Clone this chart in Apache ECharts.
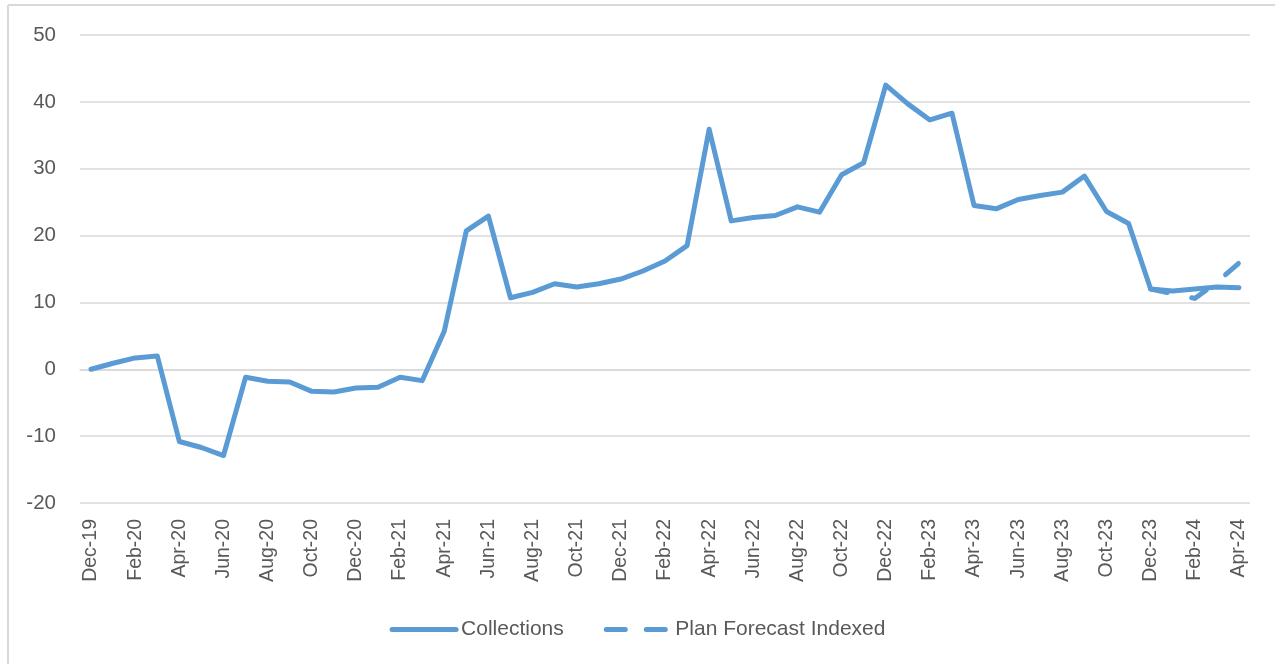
<!DOCTYPE html>
<html>
<head>
<meta charset="utf-8">
<script src="https://cdn.jsdelivr.net/npm/echarts@6/dist/echarts.min.js"></script>
<style>
  html, body { margin: 0; padding: 0; background: #fff; }
  #chart { width: 1275px; height: 664px; }
</style>
</head>
<body>
<div id="chart"></div>
<script>
// Monthly categories Dec-19 .. Apr-24
const months = [
  'Dec-19','Jan-20','Feb-20','Mar-20','Apr-20','May-20','Jun-20','Jul-20','Aug-20','Sep-20','Oct-20','Nov-20',
  'Dec-20','Jan-21','Feb-21','Mar-21','Apr-21','May-21','Jun-21','Jul-21','Aug-21','Sep-21','Oct-21','Nov-21',
  'Dec-21','Jan-22','Feb-22','Mar-22','Apr-22','May-22','Jun-22','Jul-22','Aug-22','Sep-22','Oct-22','Nov-22',
  'Dec-22','Jan-23','Feb-23','Mar-23','Apr-23','May-23','Jun-23','Jul-23','Aug-23','Sep-23','Oct-23','Nov-23',
  'Dec-23','Jan-24','Feb-24','Mar-24','Apr-24'
];

// Collections, indexed
const collections = [
  0, 0.9, 1.7, 2.0, -10.8, -11.7, -12.9, -1.2, -1.8, -1.9, -3.3, -3.4,
  -2.8, -2.7, -1.2, -1.7, 5.7, 20.7, 22.9, 10.7, 11.5, 12.8, 12.3, 12.8,
  13.5, 14.7, 16.2, 18.5, 35.9, 22.2, 22.7, 23.0, 24.3, 23.5, 29.1, 30.9,
  42.5, 39.7, 37.3, 38.3, 24.5, 24.0, 25.4, 26.0, 26.5, 28.9, 23.6, 21.8,
  12.0, 11.7, 12.0, 12.3, 12.2
];

// Plan forecast, indexed (starts Dec-23)
const planForecast = [
  null, null, null, null, null, null, null, null, null, null, null, null,
  null, null, null, null, null, null, null, null, null, null, null, null,
  null, null, null, null, null, null, null, null, null, null, null, null,
  null, null, null, null, null, null, null, null, null, null, null, null,
  12.0, 11.3, 10.6, 13.0, 15.9
];

const yTicks = { min: -20, max: 50, step: 10 };

const BLUE = '#5B9BD5';
const TEXT = '#595959';
const GRID = '#D9D9D9';
const FONT = '"Liberation Sans", Arial, sans-serif';

const chart = echarts.init(document.getElementById('chart'), null, { renderer: 'canvas' });

chart.setOption({
  animation: false,
  backgroundColor: '#fff',
  graphic: [
    { type: 'line', shape: { x1: 8, y1: 5, x2: 1275, y2: 5 }, style: { stroke: GRID, lineWidth: 2 } },
    { type: 'line', shape: { x1: 8, y1: 5, x2: 8, y2: 664 }, style: { stroke: GRID, lineWidth: 2 } }
  ],
  grid: { left: 80, right: 25, top: 35, bottom: 161 },
  legend: {
    bottom: 19,
    left: 'center',
    itemWidth: 64,
    itemHeight: 14,
    itemGap: 40,
    itemStyle: { opacity: 0 },
    lineStyle: { width: 5, cap: 'round' },
    textStyle: { color: TEXT, fontSize: 21, fontFamily: FONT },
    data: [
      { name: 'Collections' },
      { name: 'Plan Forecast Indexed', lineStyle: { type: [19, 21], width: 5, cap: 'round' } }
    ]
  },
  xAxis: {
    type: 'category',
    data: months,
    boundaryGap: true,
    axisLine: { show: true, lineStyle: { color: GRID, width: 1.5 } },
    axisTick: { show: false },
    axisLabel: {
      interval: 1,
      rotate: 90,
      margin: 16,
      color: TEXT,
      fontSize: 19.5,
      fontFamily: FONT
    }
  },
  yAxis: {
    type: 'value',
    min: yTicks.min,
    max: yTicks.max,
    interval: yTicks.step,
    axisLine: { show: false },
    axisTick: { show: false },
    splitLine: { lineStyle: { color: GRID, width: 1.5 } },
    axisLabel: { margin: 24, color: TEXT, fontSize: 20.5, fontFamily: FONT }
  },
  series: [
    {
      name: 'Collections',
      type: 'line',
      data: collections,
      symbol: 'none',
      lineStyle: { color: BLUE, width: 5, cap: 'round', join: 'round' },
      itemStyle: { color: BLUE }
    },
    {
      name: 'Plan Forecast Indexed',
      type: 'line',
      data: planForecast,
      symbol: 'none',
      lineStyle: { color: BLUE, width: 5, type: [17, 25], cap: 'round', join: 'round' },
      itemStyle: { color: BLUE }
    }
  ]
});
</script>
</body>
</html>
